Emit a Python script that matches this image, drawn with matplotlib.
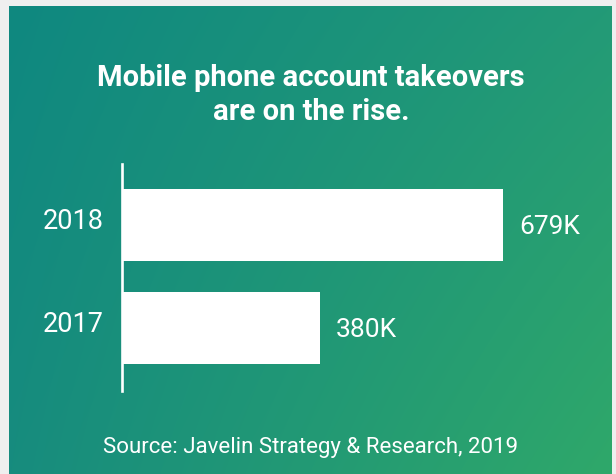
import numpy as np
import matplotlib.pyplot as plt
import matplotlib.colors as mcolors

# data
years = ['2017', '2018']
takeovers = [380, 679]          # thousands
value_labels = ['380K', '679K']

title = 'Mobile phone account takeovers\nare on the rise.'
source = 'Source: Javelin Strategy & Research, 2019'

W, H = 616, 474
fig = plt.figure(figsize=(W / 100, H / 100), dpi=100)
fig.patch.set_facecolor('#efefef')

# gradient panel
bg = fig.add_axes([9 / W, 0, (612 - 9) / W, (474 - 6) / H])
ny, nx = 120, 160
xx, yy = np.meshgrid(np.linspace(0, 1, nx), np.linspace(0, 1, ny))
tl = np.array(mcolors.to_rgb('#0f8880'))
tr = np.array(mcolors.to_rgb('#239a77'))
bl = np.array(mcolors.to_rgb('#178c7e'))
br = np.array(mcolors.to_rgb('#2fa86a'))
img = (tl * ((1 - xx) * (1 - yy))[..., None] + tr * (xx * (1 - yy))[..., None]
       + bl * ((1 - xx) * yy)[..., None] + br * (xx * yy)[..., None])
bg.imshow(img, aspect='auto', interpolation='bilinear', extent=(0, 1, 1, 0))
bg.set_axis_off()

fig.text(311 / W, 1 - 95 / H, title, ha='center', va='center', color='white',
         fontsize=21, fontweight='bold', family='Roboto', linespacing=1.25)
fig.text(311 / W, 1 - 447 / H, source, ha='center', va='center', color='white',
         fontsize=16, family='Roboto')

# bar chart
x0, x1 = 121.5, 612
y0, y1 = 164, 391
ax = fig.add_axes([x0 / W, 1 - y1 / H, (x1 - x0) / W, (y1 - y0) / H])
ax.patch.set_alpha(0)
pos = np.arange(len(years))
ax.barh(pos, takeovers, height=0.70, left=0, color='white')
k = (503 - 121.5 - 198.5) / (679 - 380)
xmin = 679 - 381.5 / k
ax.set_xlim(xmin, xmin + (x1 - x0) / k)
ax.set_ylim(-0.61, 1.59)

for s in ['top', 'right', 'bottom']:
    ax.spines[s].set_visible(False)
ax.spines['left'].set_color('white')
ax.spines['left'].set_linewidth(1.9)
ax.set_xticks([])
ax.set_yticks([])

for p, yr, v, lab in zip(pos, years, takeovers, value_labels):
    ax.annotate(yr, xy=(0, p), xycoords=('axes fraction', 'data'),
                xytext=(-13, 2.5), textcoords='offset points',
                ha='right', va='center', color='white', fontsize=19.5, family='Roboto')
    ax.annotate(lab, xy=(v, p), xytext=(11.5, -1.5), textcoords='offset points',
                ha='left', va='center', color='white', fontsize=19, family='Roboto')

fig.savefig('out.png', dpi=100, facecolor=fig.get_facecolor())
